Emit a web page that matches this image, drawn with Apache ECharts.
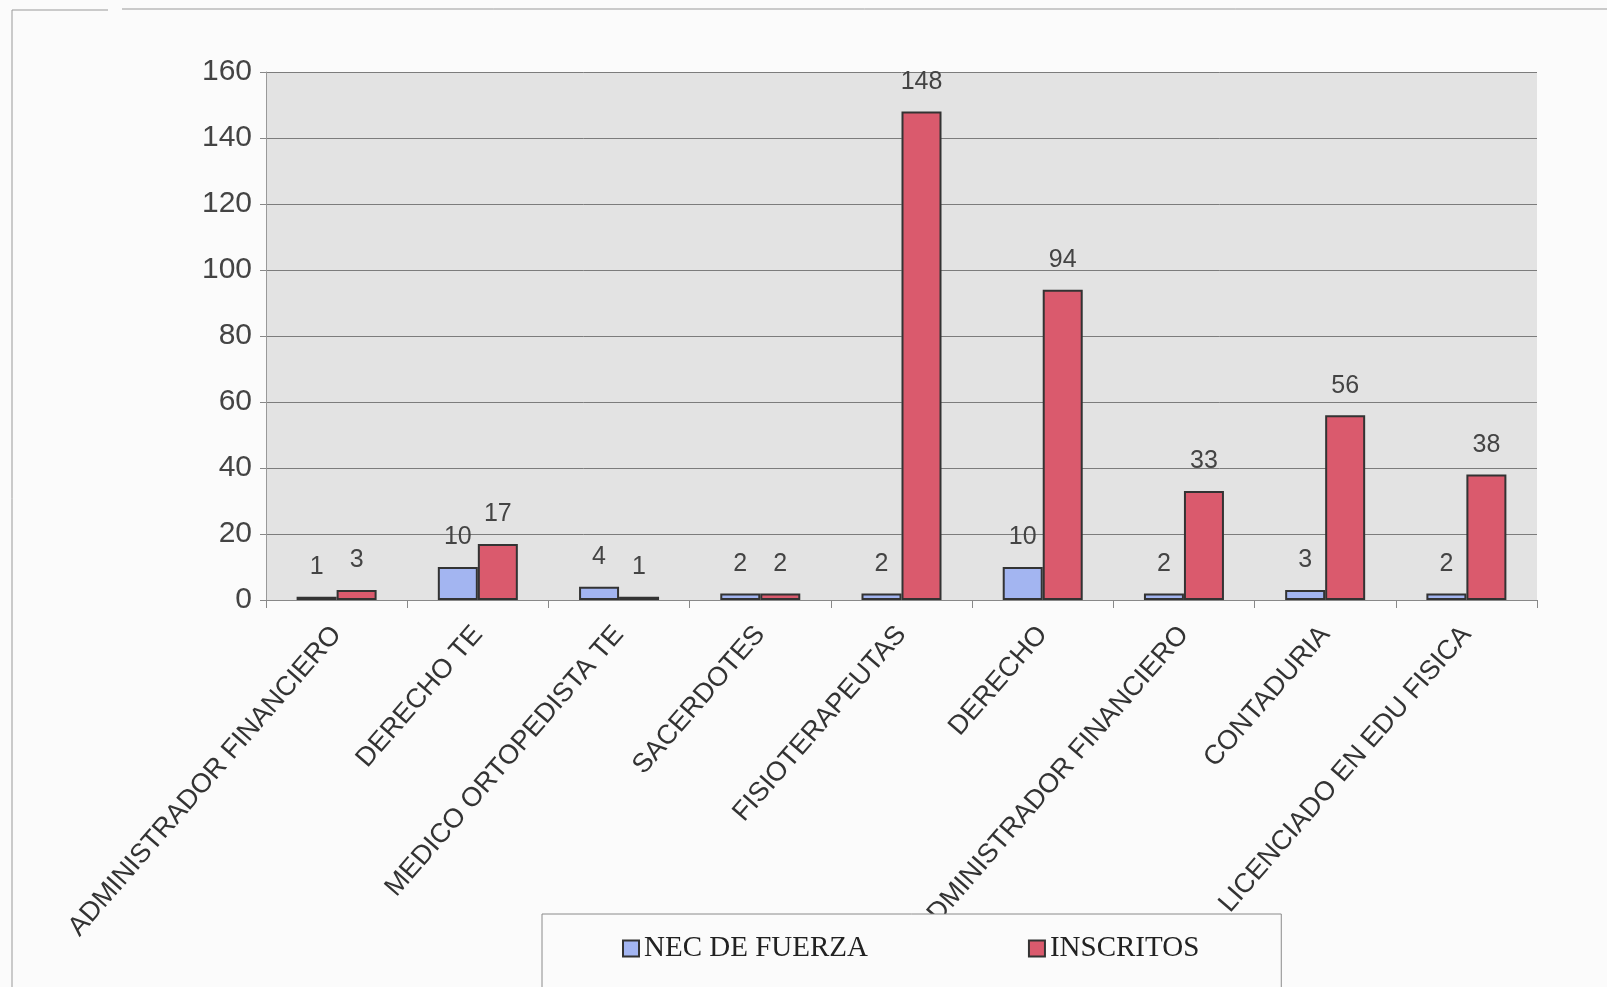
<!DOCTYPE html>
<html>
<head>
<meta charset="utf-8">
<script src="https://cdn.jsdelivr.net/npm/echarts@6/dist/echarts.min.js"></script>
<style>
  html, body { margin: 0; padding: 0; background: #fbfbfb; }
  #main { width: 1607px; height: 987px; }
</style>
</head>
<body>
<div id="main"></div>
<script>
// carreras
var categorias = [
  'ADMINISTRADOR FINANCIERO',
  'DERECHO TE',
  'MEDICO ORTOPEDISTA TE',
  'SACERDOTES',
  'FISIOTERAPEUTAS',
  'DERECHO',
  'ADMINISTRADOR FINANCIERO',
  'CONTADURIA',
  'LICENCIADO EN EDU FISICA'
];
var necFuerza = [1, 10, 4, 2, 2, 10, 2, 3, 2];
var inscritos = [3, 17, 1, 2, 148, 94, 33, 56, 38];
var yTicks = [0, 20, 40, 60, 80, 100, 120, 140, 160];

var fuente = 'Liberation Sans, Arial, sans-serif';

function etiqueta() {
  return {
    show: true,
    position: 'top',
    distance: 17,
    fontSize: 25,
    fontFamily: fuente,
    color: '#444'
  };
}

var option = {
  backgroundColor: '#fbfbfb',
  animation: false,
  grid: {
    left: 266,
    right: 70,
    top: 72,
    bottom: 387,
    show: true,
    backgroundColor: '#e3e3e3',
    borderWidth: 0
  },
  legend: {
    left: 542,
    top: 914,
    width: 739,
    padding: [20, 82, 40, 80],
    itemGap: 160,
    itemWidth: 16,
    itemHeight: 16,
    icon: 'rect',
    borderColor: '#8a8a8a',
    borderWidth: 1,
    backgroundColor: '#fbfbfb',
    textStyle: {
      fontFamily: 'Liberation Serif, Times New Roman, serif',
      fontSize: 29,
      color: '#222'
    },
    data: ['NEC DE FUERZA', 'INSCRITOS']
  },
  xAxis: {
    type: 'category',
    data: categorias,
    axisLine: { lineStyle: { color: '#888', width: 1 } },
    axisTick: { show: true, length: 8, lineStyle: { color: '#888' } },
    axisLabel: {
      rotate: 49,
      margin: 30,
      fontSize: 27,
      fontFamily: fuente,
      color: '#333',
      interval: 0
    }
  },
  yAxis: {
    type: 'value',
    min: yTicks[0],
    max: yTicks[yTicks.length - 1],
    interval: 20,
    axisLine: { show: true, lineStyle: { color: '#999' } },
    axisTick: { show: true, length: 6, lineStyle: { color: '#888' } },
    axisLabel: {
      margin: 14,
      fontSize: 30,
      fontFamily: fuente,
      color: '#444'
    },
    splitLine: { lineStyle: { color: '#7c7c7c', width: 1 } }
  },
  series: [
    {
      name: 'NEC DE FUERZA',
      type: 'bar',
      barWidth: 40,
      barGap: '0%',
      data: necFuerza,
      itemStyle: { color: '#a3b5f1', borderColor: '#333', borderWidth: 2 },
      label: etiqueta()
    },
    {
      name: 'INSCRITOS',
      type: 'bar',
      barWidth: 40,
      data: inscritos,
      itemStyle: { color: '#da5a6d', borderColor: '#333', borderWidth: 2 },
      label: etiqueta()
    }
  ],
  graphic: [
    {
      type: 'polyline',
      shape: { points: [[12, 987], [12, 10], [108, 10]] },
      style: { stroke: '#999', lineWidth: 1, fill: null }
    },
    {
      type: 'line',
      shape: { x1: 122, y1: 9, x2: 1607, y2: 9 },
      style: { stroke: '#999', lineWidth: 1 }
    }
  ]
};

var dom = document.getElementById('main');
var myChart = echarts.init(dom);
myChart.setOption(option, true);
</script>
</body>
</html>
